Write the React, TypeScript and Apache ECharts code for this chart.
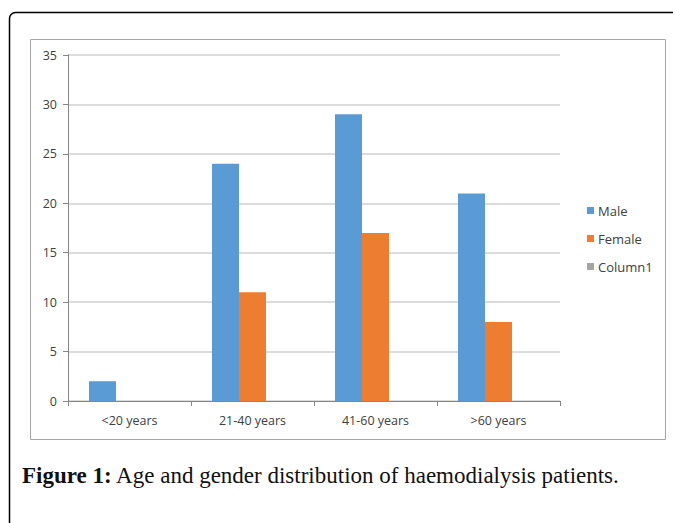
import React, { useEffect, useRef } from "react";
import * as echarts from "echarts";

const categories = ["<20 years", "21-40 years", "41-60 years", ">60 years"];
const maleValues = [2, 24, 29, 21];
const femaleValues = [null, 11, 17, 8];
const column1Values = [null, null, null, null];
const yTicks = { min: 0, max: 35, interval: 5 };

const FONT = "'Open Sans', 'Noto Sans', sans-serif";

export default function App() {
  const ref = useRef<HTMLDivElement>(null);
  useEffect(() => {
    if (!ref.current) return;
    const chart = echarts.init(ref.current, null, { renderer: "svg" });
    chart.setOption({
      animation: false,
      backgroundColor: "#ffffff",
      textStyle: { fontFamily: FONT },
      grid: { left: 68, top: 55, width: 492, height: 346, containLabel: false },
      legend: {
        orient: "vertical",
        left: 582,
        top: 198,
        itemWidth: 7,
        itemHeight: 7,
        itemGap: 13,
        icon: "rect",
        textStyle: { fontFamily: FONT, fontSize: 13, color: "#404040", lineHeight: 15, padding: [0, 0, 0, -1] },
        data: ["Male", "Female", "Column1"],
      },
      xAxis: {
        type: "category",
        data: categories,
        axisLine: { lineStyle: { color: "#868686", width: 1 } },
        axisTick: { show: true, alignWithLabel: false, length: 5, lineStyle: { color: "#868686" } },
        axisLabel: { color: "#404040", fontSize: 12.5, margin: 13, fontFamily: FONT },
        splitLine: { show: false },
      },
      yAxis: {
        type: "value",
        min: yTicks.min,
        max: yTicks.max,
        interval: yTicks.interval,
        axisLine: { show: true, lineStyle: { color: "#868686", width: 1 } },
        axisTick: { show: true, length: 5, lineStyle: { color: "#868686" } },
        axisLabel: { color: "#404040", fontSize: 12.5, margin: 11, fontFamily: FONT },
        splitLine: { lineStyle: { color: "#d0d0d0", width: 1.5 } },
      },
      series: [
        { name: "Male", type: "bar", data: maleValues, itemStyle: { color: "#5B9BD5" }, barWidth: 27, barGap: "0%", barCategoryGap: "34%" },
        { name: "Female", type: "bar", data: femaleValues, itemStyle: { color: "#ED7D31" }, barWidth: 27, barGap: "0%" },
        { name: "Column1", type: "bar", data: column1Values, itemStyle: { color: "#A5A5A5" }, barWidth: 27, barGap: "0%" },
      ],
      graphic: [
        {
          type: "rect",
          silent: true,
          shape: { x: 9.5, y: 12.5, width: 720, height: 600, r: 6 },
          style: { fill: "none", stroke: "#000000", lineWidth: 1.5 },
        },
        {
          type: "rect",
          silent: true,
          shape: { x: 30.5, y: 39.5, width: 635, height: 400 },
          style: { fill: "none", stroke: "#a6a6a6", lineWidth: 1 },
        },
        {
          type: "text",
          silent: true,
          x: 22,
          y: 475,
          style: {
            text: "{b|Figure 1:} Age and gender distribution of haemodialysis patients.",
            verticalAlign: "middle",
            font: "23px 'Liberation Serif', serif",
            fill: "#111111",
            rich: {
              b: { fontWeight: "bold", fontSize: 23, fontFamily: "'Liberation Serif', serif", fill: "#111111" },
            },
          },
        },
      ],
    });
    return () => chart.dispose();
  }, []);
  return <div ref={ref} style={{ position: "fixed", left: 0, top: 0, width: 673, height: 523 }} />;
}
